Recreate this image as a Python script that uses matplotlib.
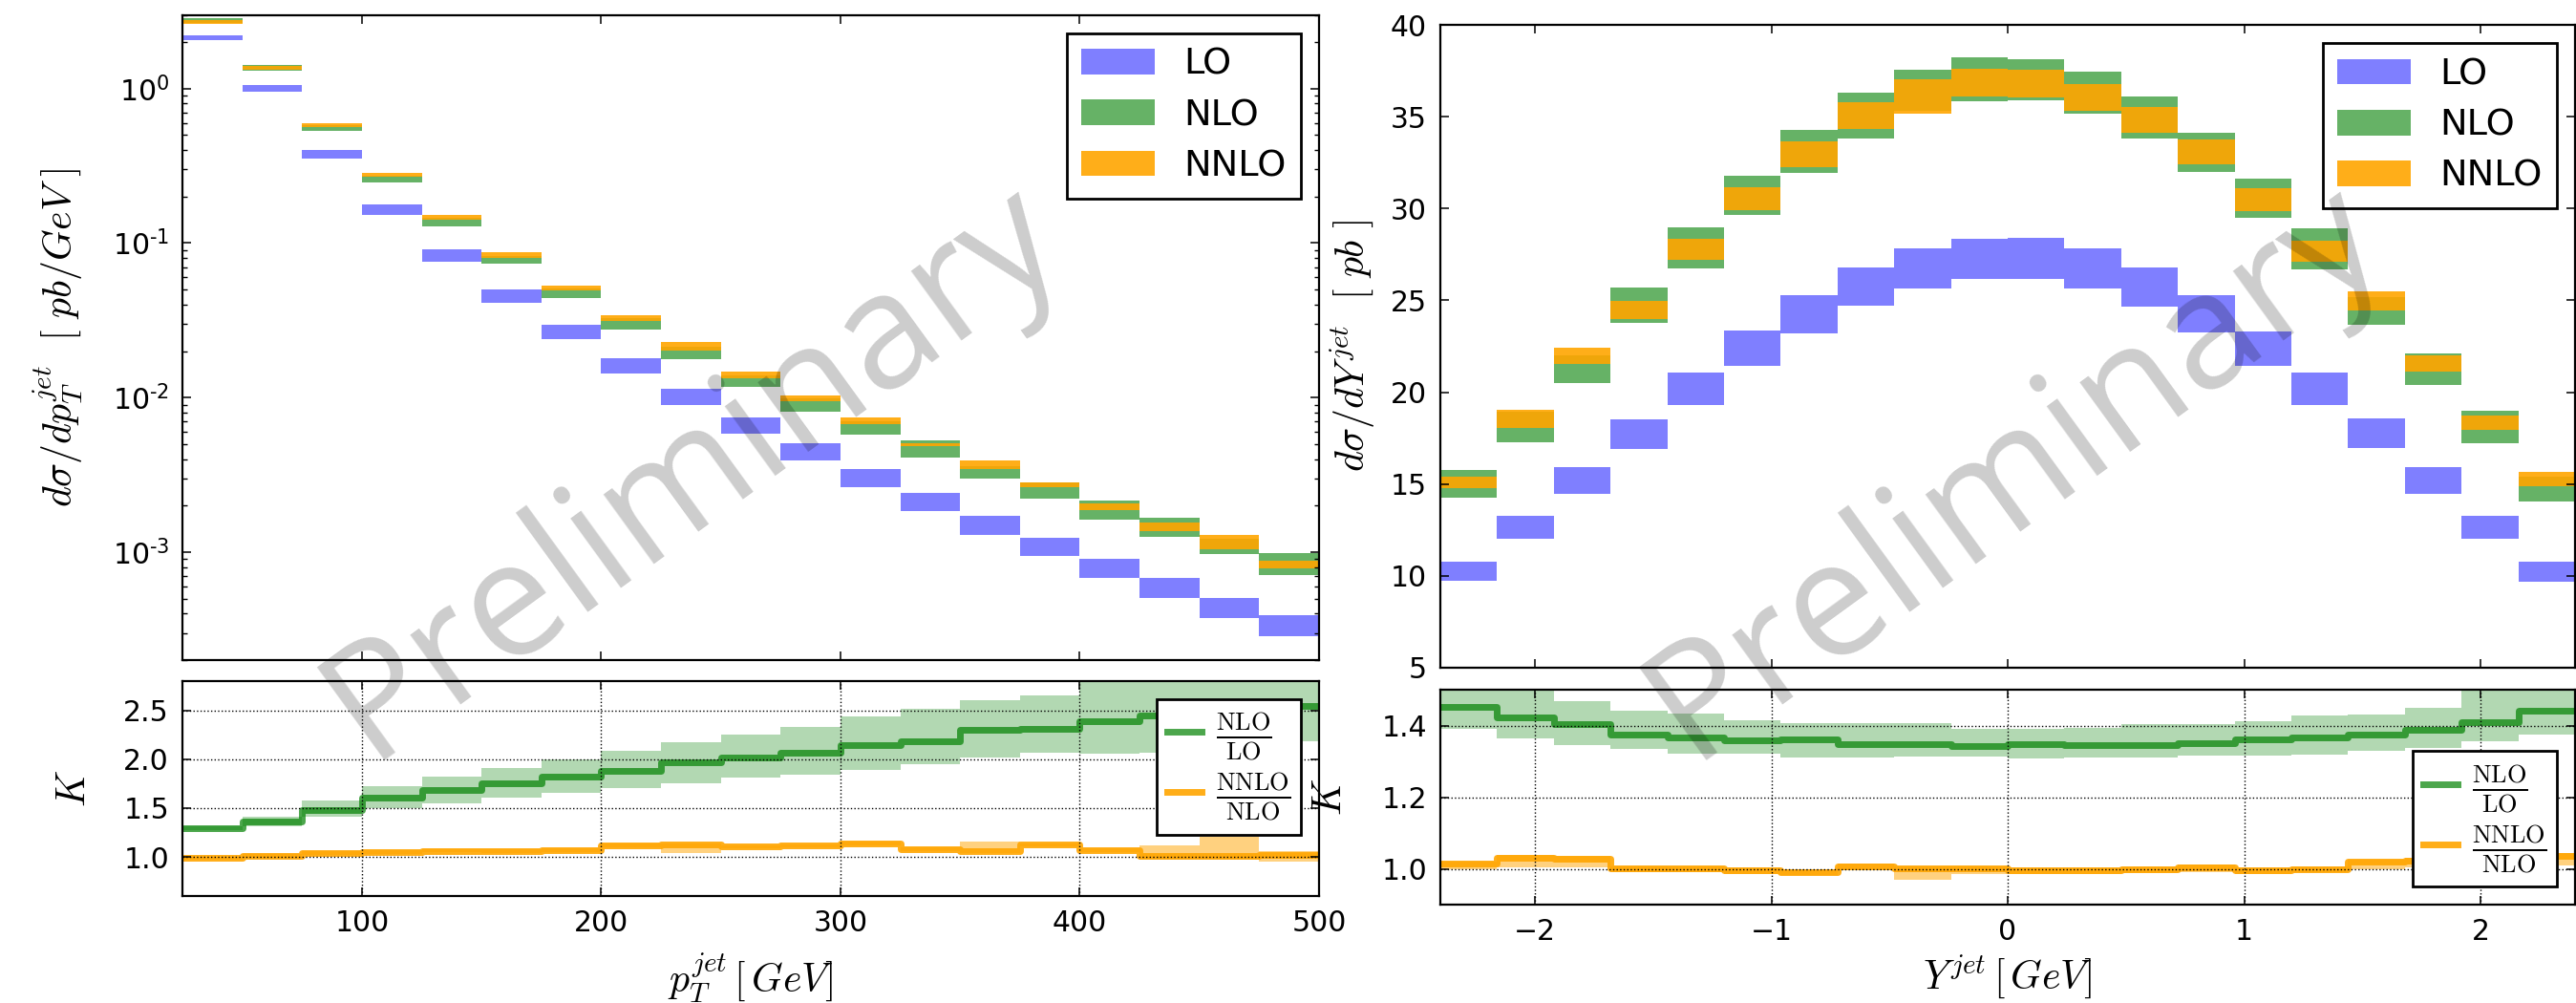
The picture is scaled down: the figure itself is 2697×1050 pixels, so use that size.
import numpy as np
import matplotlib
matplotlib.use('Agg')
import matplotlib.pyplot as plt
from matplotlib.ticker import FuncFormatter, FixedLocator

# ---------------- data ----------------
# transverse momentum bins [GeV]
pt_edges = [25, 50, 75, 100, 125, 150, 175, 200, 225, 250, 275,
            300, 325, 350, 375, 400, 425, 450, 475, 500]

pt_lo_low = [2.05, 0.954, 0.351, 0.152, 0.0760, 0.0411, 0.0239, 0.01434, 0.00901, 0.00586,
             0.00390, 0.00264, 0.00185, 0.001285, 0.00094, 0.000678, 0.000503, 0.000373, 0.000285]
pt_lo_high = [2.20, 1.049, 0.399, 0.1775, 0.0910, 0.0501, 0.0296, 0.0180, 0.01142, 0.00746,
              0.00508, 0.00346, 0.00243, 0.001724, 0.001238, 0.000909, 0.000678, 0.000508, 0.000388]
pt_nlo_low = [2.68, 1.305, 0.530, 0.2461, 0.1280, 0.0735, 0.0441, 0.0276, 0.01775, 0.01175,
              0.00812, 0.00572, 0.00412, 0.00297, 0.002216, 0.001613, 0.001261, 0.000968, 0.000708]
pt_nlo_high = [2.84, 1.415, 0.578, 0.2745, 0.1462, 0.0827, 0.0510, 0.0325, 0.02125, 0.01387,
               0.00986, 0.00705, 0.00530, 0.00359, 0.002836, 0.002154, 0.001677, 0.001226, 0.000991]
pt_nnlo_low = [2.64, 1.33, 0.567, 0.2693, 0.1427, 0.0804, 0.0496, 0.0315, 0.02027, 0.01336,
               0.00954, 0.00678, 0.00482, 0.00343, 0.00264, 0.001861, 0.001373, 0.001044, 0.000789]
pt_nnlo_high = [2.79, 1.395, 0.594, 0.2837, 0.1518, 0.0872, 0.0530, 0.0341, 0.02282, 0.01468,
                0.01029, 0.00742, 0.00503, 0.00391, 0.00281, 0.002055, 0.001561, 0.001297, 0.000876]

# K factors vs pT
pt_k_nlo = [1.294, 1.366, 1.48, 1.611, 1.686, 1.752, 1.824, 1.879, 1.97, 2.02,
            2.062, 2.144, 2.183, 2.297, 2.314, 2.386, 2.444, 2.50, 2.55]
pt_k_nlo_low = [1.275, 1.31, 1.415, 1.497, 1.552, 1.611, 1.66, 1.709, 1.758, 1.814,
                1.846, 1.895, 1.954, 2.013, 2.069, 2.059, 2.069, 2.18, 2.18]
pt_k_nlo_high = [1.315, 1.415, 1.578, 1.725, 1.824, 1.915, 2.003, 2.09, 2.176, 2.255,
                 2.327, 2.435, 2.52, 2.608, 2.65, 2.9, 2.9, 2.9, 2.9]
pt_k_nnlo = [0.99, 1.013, 1.039, 1.049, 1.062, 1.059, 1.072, 1.121, 1.131, 1.105,
             1.114, 1.137, 1.082, 1.056, 1.124, 1.072, 1.013, 1.013, 1.023]
pt_k_nnlo_low = [0.975, 0.995, 1.02, 1.03, 1.045, 1.04, 1.05, 1.10, 1.039, 1.085,
                 1.095, 1.115, 1.06, 1.04, 1.105, 1.05, 0.974, 0.974, 0.948]
pt_k_nnlo_high = [1.005, 1.03, 1.055, 1.065, 1.08, 1.075, 1.09, 1.14, 1.14, 1.12,
                  1.13, 1.155, 1.10, 1.16, 1.14, 1.09, 1.12, 1.209, 1.06]

# rapidity bins
y_edges = [-2.4, -2.16, -1.92, -1.68, -1.44, -1.2, -0.96, -0.72, -0.48, -0.24, 0.0,
           0.24, 0.48, 0.72, 0.96, 1.2, 1.44, 1.68, 1.92, 2.16, 2.4]

y_lo_low = [9.75, 12.04, 14.48, 16.93, 19.32, 21.45, 23.22, 24.73, 25.65, 26.17,
            26.17, 25.65, 24.68, 23.25, 21.43, 19.32, 16.96, 14.48, 12.02, 9.70]
y_lo_high = [10.77, 13.27, 15.92, 18.52, 21.07, 23.36, 25.28, 26.79, 27.83, 28.35,
             28.40, 27.83, 26.79, 25.30, 23.32, 21.09, 18.57, 15.92, 13.27, 10.77]
y_nlo_low = [14.28, 17.29, 20.52, 23.79, 26.76, 29.67, 31.95, 33.80, 35.32, 35.84,
             35.87, 35.18, 33.83, 31.99, 29.50, 26.69, 23.67, 20.41, 17.22, 14.07]
y_nlo_high = [15.75, 18.95, 22.0, 25.70, 28.97, 31.78, 34.28, 36.31, 37.54, 38.23,
              38.13, 37.45, 36.10, 34.12, 31.63, 28.94, 25.2, 22.11, 18.99, 15.4]
y_nnlo_low = [14.78, 18.07, 21.54, 23.98, 27.22, 29.91, 32.26, 34.34, 35.18, 36.10,
              36.05, 35.32, 34.10, 32.41, 29.86, 27.09, 24.45, 21.12, 17.95, 14.88]
y_nnlo_high = [15.40, 19.04, 22.42, 24.97, 28.35, 31.16, 33.63, 35.78, 37.02, 37.60,
               37.55, 36.78, 35.53, 33.78, 31.11, 28.25, 25.49, 22.01, 18.73, 15.66]

# K factors vs rapidity
y_k_nlo = [1.452, 1.424, 1.403, 1.376, 1.367, 1.358, 1.360, 1.349, 1.349, 1.342,
           1.347, 1.346, 1.346, 1.351, 1.360, 1.367, 1.376, 1.387, 1.409, 1.441]
y_k_nlo_low = [1.39, 1.365, 1.345, 1.334, 1.322, 1.322, 1.311, 1.311, 1.314, 1.313,
               1.307, 1.311, 1.311, 1.316, 1.316, 1.318, 1.329, 1.338, 1.357, 1.374]
y_k_nlo_high = [1.52, 1.52, 1.467, 1.441, 1.432, 1.415, 1.406, 1.406, 1.406, 1.391,
                1.39, 1.394, 1.403, 1.403, 1.411, 1.427, 1.432, 1.45, 1.52, 1.52]
y_k_nnlo = [1.014, 1.032, 1.028, 1.001, 1.001, 0.996, 0.992, 1.008, 1.001, 1.001,
            0.996, 0.996, 1.0, 1.005, 0.996, 0.999, 1.019, 1.023, 1.023, 1.037]
y_k_nnlo_low = [1.0, 1.005, 1.005, 0.99, 0.99, 0.985, 0.982, 0.995, 0.97, 0.985,
                0.985, 0.985, 0.988, 0.99, 0.985, 0.99, 1.0, 1.005, 1.0, 1.01]
y_k_nnlo_high = [1.02, 1.04, 1.035, 1.008, 1.008, 1.003, 1.0, 1.015, 1.008, 1.008,
                 1.003, 1.003, 1.008, 1.012, 1.003, 1.006, 1.025, 1.03, 1.03, 1.045]

# ---------------- style ----------------
plt.rcParams['font.family'] = 'DejaVu Sans'
plt.rcParams['mathtext.fontset'] = 'cm'

TICK_FS = 21.5
LABEL_FS = 30
LEG_FS = 27.5

W, H = 2697, 1050
fig = plt.figure(figsize=(W / 100, H / 100), dpi=100)


def add_axes_px(x0, y0, x1, y1, **kw):
    # pixel box (top-left origin) -> figure fraction
    return fig.add_axes([x0 / W, 1 - y1 / H, (x1 - x0) / W, (y1 - y0) / H], **kw)


def bands(ax, edges, low, high, color, alpha, label=None):
    edges = np.asarray(edges)
    low = np.asarray(low)
    high = np.asarray(high)
    ax.bar(edges[:-1], high - low, bottom=low, width=np.diff(edges), align='edge',
           color=color, alpha=alpha, linewidth=0, label=label)


def steps(ax, edges, vals, color, alpha, label):
    v = np.append(vals, vals[-1])
    ax.step(edges, v, where='post', color=color, alpha=alpha, lw=5, label=label)


def style_axes(ax):
    ax.tick_params(which='both', direction='in', top=True, right=True,
                   labelsize=TICK_FS, pad=10)
    ax.tick_params(which='major', length=6.7, width=1.1)
    ax.tick_params(which='minor', length=3.6, width=1.0)
    for s in ax.spines.values():
        s.set_linewidth(1.6)


def log_label(v, pos):
    e = int(round(np.log10(v)))
    return r'$\mathdefault{10^{%s}}$' % str(e).replace('-', '\u2010')


frac_nlo = r'$\frac{\rm NLO}{\rm LO}$'
frac_nnlo = r'$\frac{\rm NNLO}{\rm NLO}$'

# ---------------- left: pT ----------------
ax1 = add_axes_px(191, 15.6, 1381, 691)
ax2 = add_axes_px(191, 713, 1381, 938)

ax1.set_yscale('log')
bands(ax1, pt_edges, pt_lo_low, pt_lo_high, 'blue', 0.5, 'LO')
bands(ax1, pt_edges, pt_nlo_low, pt_nlo_high, 'green', 0.6, 'NLO')
bands(ax1, pt_edges, pt_nnlo_low, pt_nnlo_high, 'orange', 0.9, 'NNLO')
ax1.set_xlim(25, 500)
ax1.set_ylim(2e-4, 3)
ax1.yaxis.set_major_formatter(FuncFormatter(log_label))
ax1.xaxis.set_major_locator(FixedLocator([100, 200, 300, 400, 500]))
style_axes(ax1)
ax1.tick_params(labelbottom=False)
ax1.set_ylabel(r'$d\sigma/dp_T^{jet}\ \ [\ pb/GeV\ ]$', fontsize=LABEL_FS)
ax1.yaxis.set_label_coords(-0.0857, 0.5)

bands(ax2, pt_edges, pt_k_nlo_low, pt_k_nlo_high, 'green', 0.3)
bands(ax2, pt_edges, pt_k_nnlo_low, pt_k_nnlo_high, 'orange', 0.5)
steps(ax2, pt_edges, pt_k_nlo, 'green', 0.7, frac_nlo)
steps(ax2, pt_edges, pt_k_nnlo, 'orange', 0.9, frac_nnlo)
ax2.set_xlim(25, 500)
ax2.set_ylim(0.6, 2.8)
ax2.xaxis.set_major_locator(FixedLocator([100, 200, 300, 400, 500]))
ax2.yaxis.set_major_locator(FixedLocator([1.0, 1.5, 2.0, 2.5]))
ax2.grid(True, ls=':', color='k', lw=1.0)
ax2.set_axisbelow(False)
style_axes(ax2)
ax2.set_ylabel(r'$K$', fontsize=LABEL_FS)
ax2.yaxis.set_label_coords(-0.0782, 0.5)
ax2.set_xlabel(r'$p_T^{jet}\,[\,GeV]$', fontsize=LABEL_FS)
ax2.xaxis.set_label_coords(0.5, -0.255)

# ---------------- right: rapidity ----------------
ax3 = add_axes_px(1508, 26, 2696, 699)
ax4 = add_axes_px(1508, 722, 2696, 947)

bands(ax3, y_edges, y_lo_low, y_lo_high, 'blue', 0.5, 'LO')
bands(ax3, y_edges, y_nlo_low, y_nlo_high, 'green', 0.6, 'NLO')
bands(ax3, y_edges, y_nnlo_low, y_nnlo_high, 'orange', 0.9, 'NNLO')
ax3.set_xlim(-2.4, 2.4)
ax3.set_ylim(5, 40)
ax3.xaxis.set_major_locator(FixedLocator([-2, -1, 0, 1, 2]))
style_axes(ax3)
ax3.tick_params(labelbottom=False)
ax3.set_ylabel(r'$d\sigma/dY^{jet}\ \ [\ pb\ ]$', fontsize=LABEL_FS)
ax3.yaxis.set_label_coords(-0.0556, 0.5)

bands(ax4, y_edges, y_k_nlo_low, y_k_nlo_high, 'green', 0.3)
bands(ax4, y_edges, y_k_nnlo_low, y_k_nnlo_high, 'orange', 0.5)
steps(ax4, y_edges, y_k_nlo, 'green', 0.7, frac_nlo)
steps(ax4, y_edges, y_k_nnlo, 'orange', 0.9, frac_nnlo)
ax4.set_xlim(-2.4, 2.4)
ax4.set_ylim(0.9, 1.5)
ax4.xaxis.set_major_locator(FixedLocator([-2, -1, 0, 1, 2]))
ax4.yaxis.set_major_locator(FixedLocator([1.0, 1.2, 1.4]))
ax4.grid(True, ls=':', color='k', lw=1.0)
ax4.set_axisbelow(False)
style_axes(ax4)
ax4.set_ylabel(r'$K$', fontsize=LABEL_FS)
ax4.yaxis.set_label_coords(-0.080, 0.5)
ax4.set_xlabel(r'$Y^{jet}\,[\,GeV]$', fontsize=LABEL_FS)
ax4.xaxis.set_label_coords(0.5, -0.225)

# ---------------- legends ----------------
for ax in (ax1, ax3):
    leg = ax.legend(loc='upper right', fontsize=LEG_FS, fancybox=False, framealpha=1,
                    edgecolor='k', labelspacing=0.45, borderpad=0.4, handlelength=2.0,
                    handletextpad=0.8)
    leg.get_frame().set_linewidth(2)

for ax, loc in ((ax2, 'upper right'), (ax4, 'lower right')):
    leg = ax.legend(loc=loc, fontsize=27, fancybox=False, framealpha=1, edgecolor='k',
                    handlelength=0.96, handletextpad=0.4, borderpad=0.3, labelspacing=0.2)
    leg.get_frame().set_linewidth(2)

# ---------------- watermark ----------------
for xc in (752, 2136):
    fig.text(xc / W, 1 - 530 / H, 'Preliminary', fontsize=122, family='Open Sans',
             rotation=36, rotation_mode='anchor', ha='center', va='baseline',
             color='k', alpha=0.2, zorder=100)

fig.savefig('out.png', dpi=100)
